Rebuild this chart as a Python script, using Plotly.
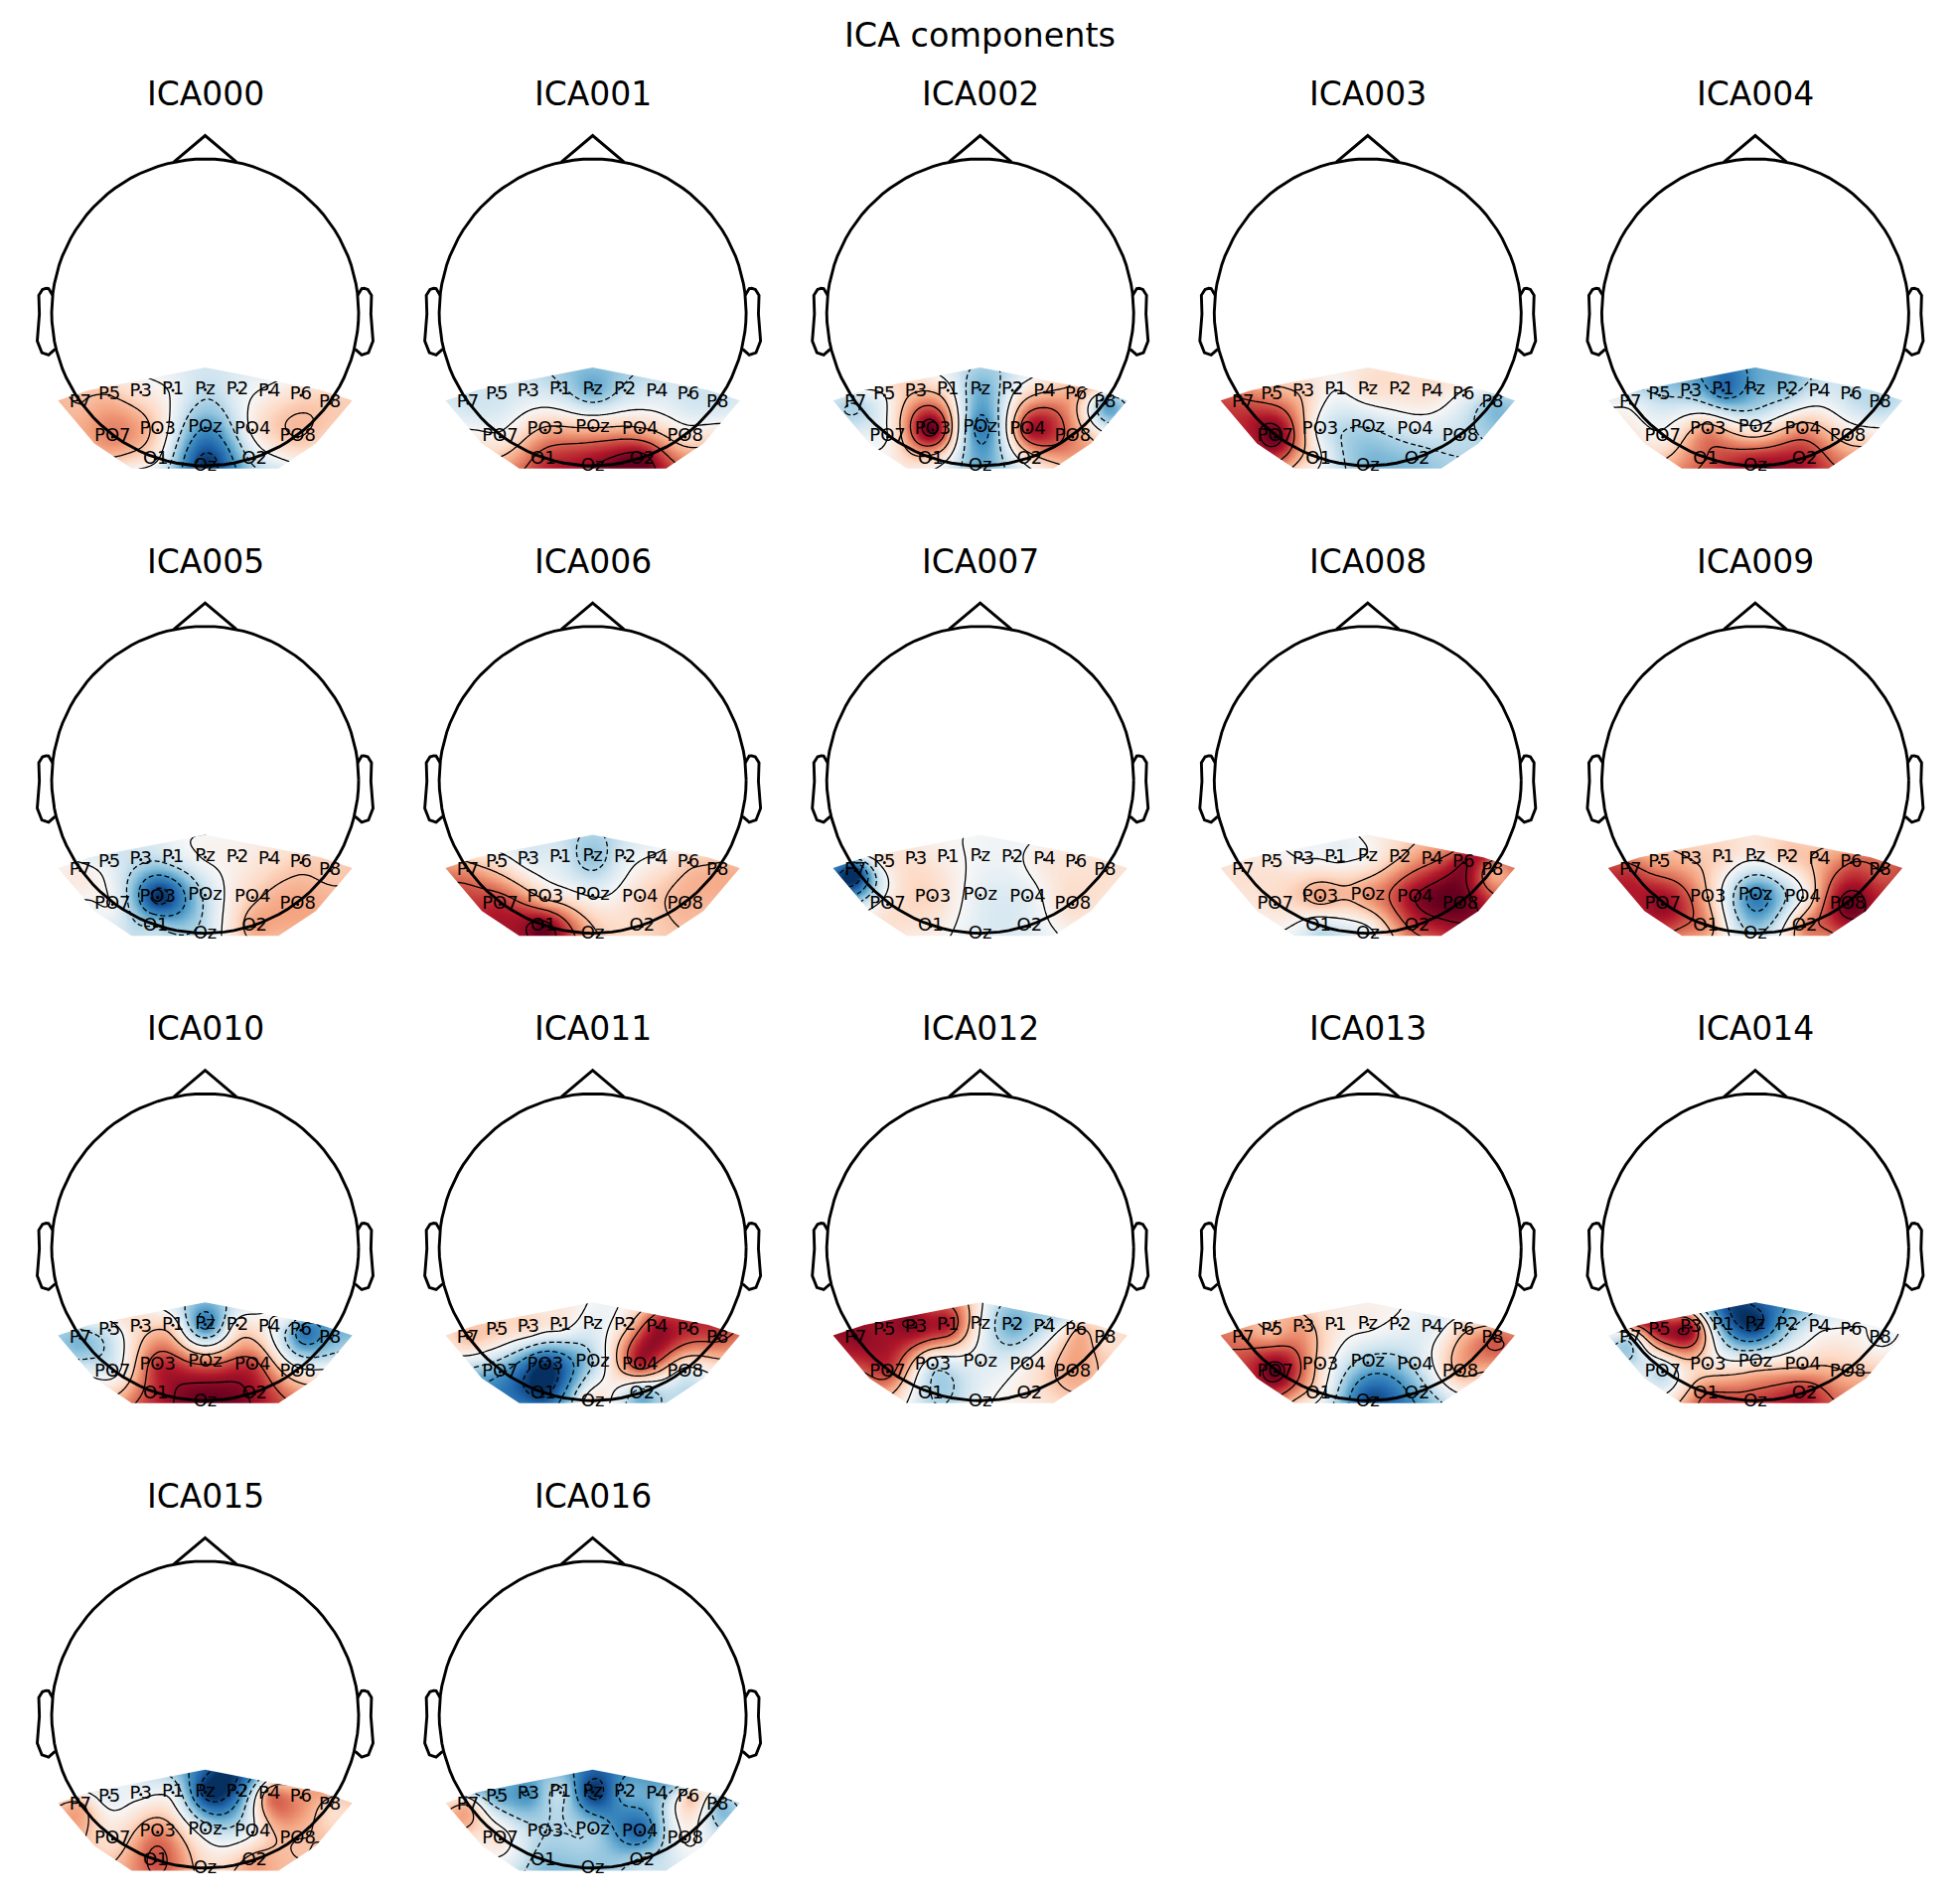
import numpy as np
import plotly.graph_objects as go

CHANNELS = ["P7","P5","P3","P1","Pz","P2","P4","P6","P8","PO7","PO3","POz","PO4","PO8","O1","Oz","O2"]
CH_X = [-0.813,-0.624,-0.419,-0.210,0.0,0.210,0.419,0.624,0.813,-0.603,-0.309,0.0,0.309,0.603,-0.322,0.0,0.322]
CH_Y = [-0.592,-0.540,-0.521,-0.508,-0.504,-0.508,-0.521,-0.540,-0.592,-0.812,-0.767,-0.752,-0.767,-0.812,-0.955,-1.006,-0.955]

ICA000 = [.3,.3,.12,-.03,-.25,-.1,.05,.2,.25,.5,.2,-.6,.05,.3,.05,-1,-.2]
ICA001 = [-.2,-.2,-.15,-.25,-.5,-.25,-.15,-.2,-.2,.05,.35,.3,.35,.15,.7,.9,1.0]
ICA002 = [-.3,0,.3,.1,-.5,-.05,.3,.35,-.5,0,1,-.7,.8,.5,.2,-.5,.15]
ICA003 = [.65,.45,.25,0,.15,.15,.15,-.05,-.4,1.0,-.1,-.3,-.15,-.25,.05,-.45,-.4]
ICA004 = [-.05,-.3,-.4,-.75,-.5,-.4,-.15,-.25,-.3,.05,.45,.05,.45,.2,.6,.9,.8]
ICA005 = [.08,-.1,-.25,-.15,.02,.05,.15,.25,.25,-.02,-1,-.25,.25,.4,-.3,-.2,.4]
ICA006 = [.45,.15,-.1,-.15,-.4,-.1,.05,.25,.35,.75,.25,-.02,.2,.35,1.0,.35,.2]
ICA007 = [-1,.1,.15,.05,-.03,-.03,.1,.12,.15,.1,.2,-.1,-.1,.18,.1,-.12,-.1]
ICA008 = [.15,.1,0,-.05,.02,.3,.55,.9,.4,.15,.4,.45,.9,1,-.2,-.1,.7]
ICA009 = [.7,.4,.3,.2,.05,.25,.35,.6,.6,.9,.3,-.7,0,1.0,.45,-.3,.5]
ICA010 = [-.45,-.15,.2,.15,-.7,.1,0,-.7,-.5,-.1,.75,.55,.7,.1,.75,1,.85]
ICA011 = [.3,.25,.2,.1,-.1,.2,.85,.75,.65,-.55,-1,-.3,.75,-.1,-.95,.15,-.45]
ICA012 = [.9,.85,.9,.8,0,-.5,-.25,.3,.15,.7,-.2,-.1,.05,.4,-.3,-.05,.1]
ICA013 = [.5,.3,.4,.1,.05,-.05,-.1,.25,.6,1,.2,-.4,-.25,.35,.1,-.9,-.5]
ICA014 = [-.2,.85,.85,-.6,-1,-.4,-.05,.02,-.05,-.25,.15,.1,.25,.3,.6,.7,.8]
ICA015 = [.35,-.1,-.05,-.1,-1,-.75,.5,.45,.2,.15,.5,-.15,-.02,.3,.65,.2,.4]
ICA016 = [.3,-.5,-.6,-.25,-1,-.5,-.45,.25,-.4,.12,-.3,-.35,-.8,.02,-.4,-.4,-.25]

COMPONENTS = [ICA000,ICA001,ICA002,ICA003,ICA004,ICA005,ICA006,ICA007,ICA008,
              ICA009,ICA010,ICA011,ICA012,ICA013,ICA014,ICA015,ICA016]

W, H = 1973, 1913
R = 154.5
COL_X = [206.5, 596.6, 986.7, 1376.8, 1766.9]
ROW_Y = [314.5, 785.1, 1255.7, 1726.3]
RDBU = ["#053061","#2166ac","#4393c3","#92c5de","#d1e5f0","#f7f7f7","#fddbc7","#f4a582","#d6604d","#b2182b","#67001f"]
CS = [[i/10, c] for i, c in enumerate(RDBU)]

ch_x = np.array(CH_X); ch_y = np.array(CH_Y)
# Rim points just outside the sensor hull, in ring order: a topomap's local extrapolation.
RIM = [CHANNELS.index(n) for n in ["P7","P5","P3","P1","Pz","P2","P4","P6","P8","PO8","O2","Oz","O1","PO7"]]
ox, oy = ch_x[RIM], ch_y[RIM] + 0.72
nrm = np.hypot(ox, oy)
cx = np.r_[ch_x, ch_x[RIM] + 0.16*ox/nrm]
cy = np.r_[ch_y, ch_y[RIM] + 0.16*oy/nrm]
N = len(cx)
def kernel(r):
    return np.where(r > 0, r**2*np.log(np.maximum(r, 1e-9)), 0.0)
d = np.hypot(cx[:,None]-cx[None,:], cy[:,None]-cy[None,:])
P = np.column_stack([np.ones(N), cx, cy])
A = np.block([[kernel(d), P],[P.T, np.zeros((3,3))]])

gx = np.linspace(-1.0, 1.0, 129)
gy = np.linspace(-1.06, -0.33, 48)
GX, GY = np.meshgrid(gx, gy)
def field(vals):
    rv = vals[RIM]
    rim = 0.65*rv + 0.175*(np.roll(rv, 1) + np.roll(rv, -1))
    w = np.linalg.solve(A, np.r_[vals, rim, 0, 0, 0])
    D = np.hypot(GX[...,None]-cx, GY[...,None]-cy)
    return kernel(D)@w[:N] + w[N] + w[N+1]*GX + w[N+2]*GY

t = np.linspace(0, 2*np.pi, 101)
HEAD_X = np.cos(t); HEAD_Y = np.sin(t)
NOSE_X = [-0.204, 0, 0.204]; NOSE_Y = [0.98, 1.152, 0.98]
EAR_X = np.array([.497,.510,.518,.5299,.5419,.54,.547,.532,.510,.489])*2
EAR_Y = np.array([.0555,.0775,.0783,.0746,.0555,-.0055,-.0932,-.1313,-.1384,-.1199])*2
HALF_MASK = [(0,-0.359),(0.754,-0.506),(0.959,-0.575),(0.722,-0.855),(0.478,-1.017)]
mask = HALF_MASK + [(-x,y) for x,y in HALF_MASK[:0:-1]]
mask = mask[::-1]
mx = [p[0] for p in mask]+[mask[0][0]]; my = [p[1] for p in mask]+[mask[0][1]]
rx0,rx1,ry0,ry1 = -1.04,1.04,-1.10,-0.29
COVER_X = [rx0,rx0,rx1,rx1,rx0]+mx+[rx0]
COVER_Y = [ry0,ry1,ry1,ry0,ry0]+my+[ry0]

fig = go.Figure()
layout = {}
ann = [dict(text="ICA components", x=986.7/W, y=1-35.5/H, xref="paper", yref="paper",
            showarrow=False, xanchor="center", yanchor="middle",
            font=dict(size=33.4, family="DejaVu Sans", color="black"))]
XR, YT, YB = 1.26, 1.3, 1.2
for i, vals in enumerate(COMPONENTS):
    r, c = i//5, i%5
    ax = "" if i == 0 else str(i+1)
    xa, ya = "x"+ax, "y"+ax
    px, py = COL_X[c], ROW_Y[r]
    layout["xaxis"+ax] = dict(domain=[(px-XR*R)/W, (px+XR*R)/W], range=[-XR,XR], visible=False, anchor=ya, fixedrange=True)
    layout["yaxis"+ax] = dict(domain=[1-(py+YB*R)/H, 1-(py-YT*R)/H], range=[-YB,YT], visible=False, anchor=xa, fixedrange=True)
    z = field(np.array(vals))
    fig.add_trace(go.Heatmap(x=gx, y=gy, z=z, zmin=-1, zmax=1, colorscale=CS, zsmooth="best",
                             showscale=False, hoverinfo="skip", xaxis=xa, yaxis=ya))
    fig.add_trace(go.Contour(x=gx, y=gy, z=z, autocontour=False, showscale=False, hoverinfo="skip",
                             contours=dict(start=0, end=0.9, size=0.3, coloring="none"),
                             line=dict(color="black", width=1.3, smoothing=0), xaxis=xa, yaxis=ya))
    fig.add_trace(go.Contour(x=gx, y=gy, z=z, autocontour=False, showscale=False, hoverinfo="skip",
                             contours=dict(start=-0.9, end=-0.3, size=0.3, coloring="none"),
                             line=dict(color="black", width=1.3, dash="5px,3px", smoothing=0), xaxis=xa, yaxis=ya))
    fig.add_trace(go.Scatter(x=COVER_X, y=COVER_Y, mode="none", fill="toself", fillcolor="white",
                             hoverinfo="skip", xaxis=xa, yaxis=ya))
    for X, Y in ((HEAD_X, HEAD_Y), (NOSE_X, NOSE_Y), (EAR_X, EAR_Y), (-EAR_X, EAR_Y)):
        fig.add_trace(go.Scatter(x=X, y=Y, mode="lines", line=dict(color="black", width=2.9),
                                 hoverinfo="skip", xaxis=xa, yaxis=ya, cliponaxis=False))
    fig.add_trace(go.Scatter(x=CH_X, y=CH_Y, mode="markers+text", text=CHANNELS, textposition="middle center",
                             marker=dict(color="black", size=3), textfont=dict(size=18, family="DejaVu Sans", color="black"),
                             hoverinfo="skip", xaxis=xa, yaxis=ya, cliponaxis=False))
    ann.append(dict(text=f"ICA{i:03d}", x=px/W, y=1-(py-220)/H, xref="paper", yref="paper",
                    showarrow=False, xanchor="center", yanchor="middle",
                    font=dict(size=33, family="DejaVu Sans", color="black")))

fig.update_layout(width=W, height=H, margin=dict(l=0,r=0,t=0,b=0), showlegend=False,
                  paper_bgcolor="white", plot_bgcolor="white", annotations=ann, **layout)
fig.write_html("out.html", post_script="document.body.style.margin='0';", config=dict(displayModeBar=False))
